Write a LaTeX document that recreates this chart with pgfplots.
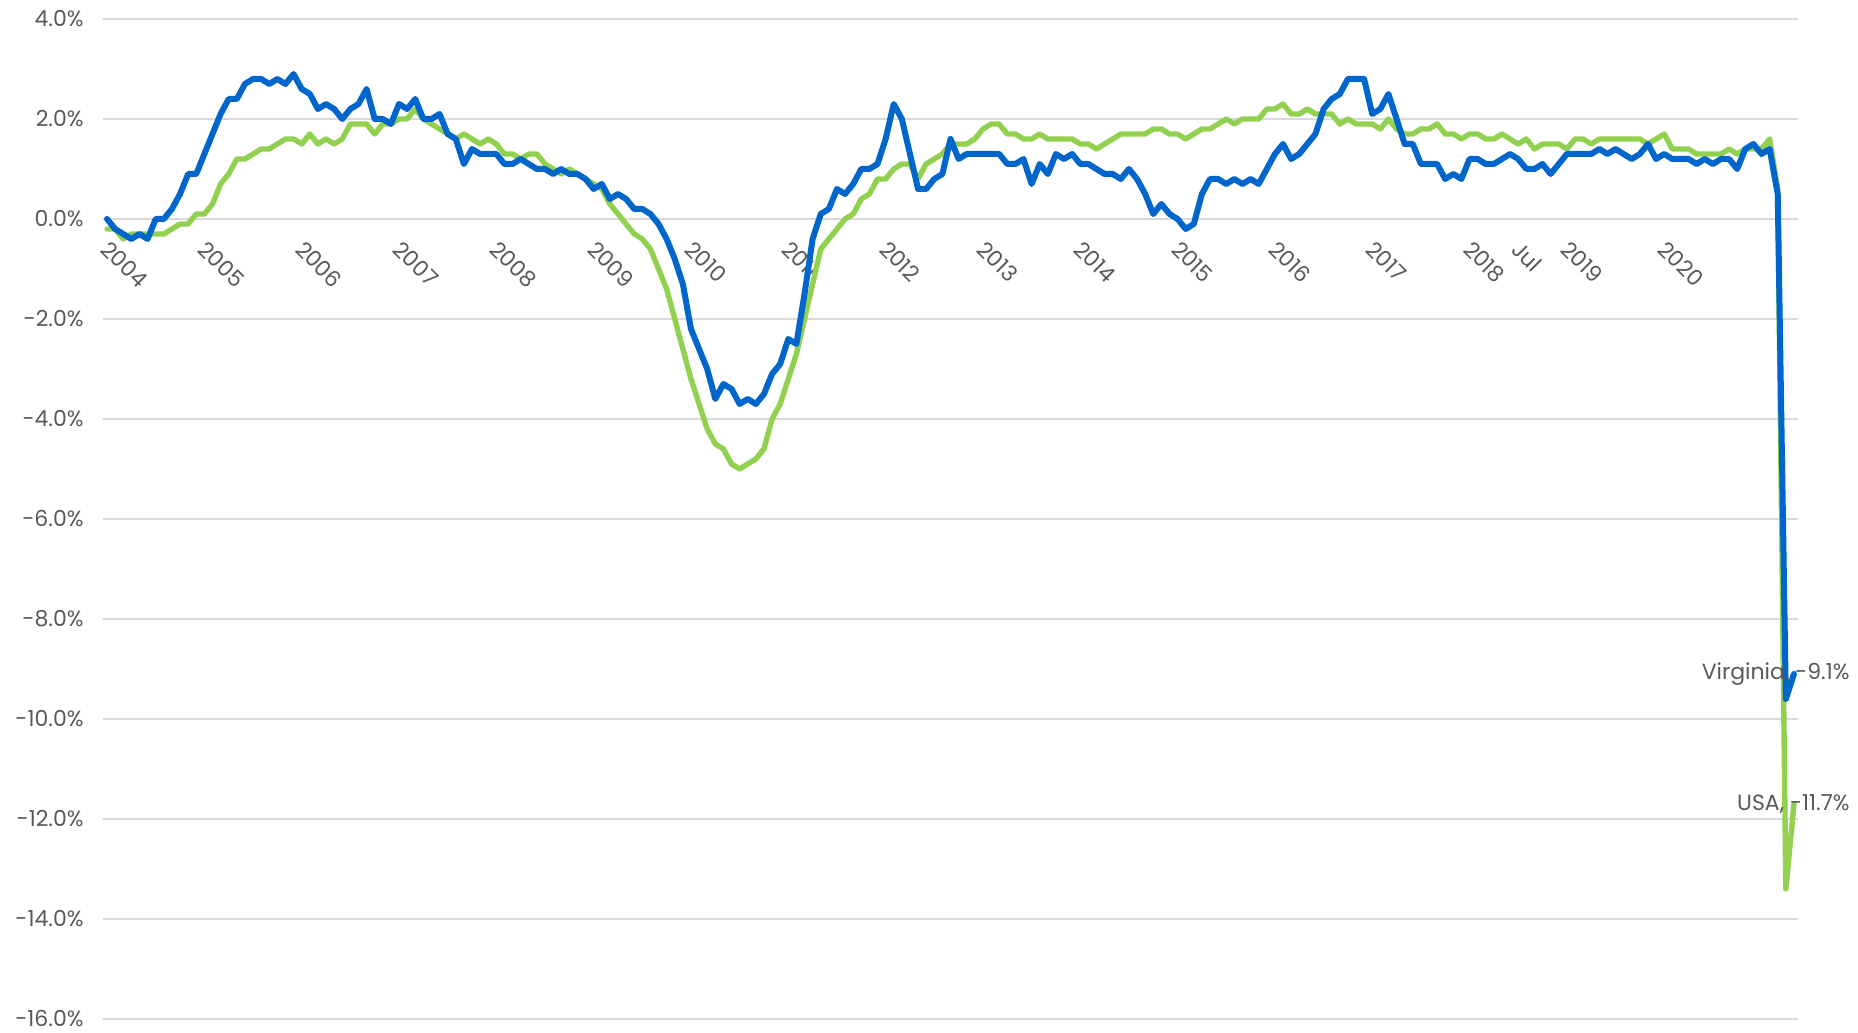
\documentclass[border=0pt]{standalone}
\usepackage{pgfplots}
\pgfplotsset{compat=1.18}
\usepackage{pgfplotstable}
\usepackage{fontspec}
\setmainfont{Poppins}

\definecolor{vablue}{HTML}{0066CC}
\definecolor{usgreen}{HTML}{92D050}
\definecolor{gridgray}{HTML}{D9D9D9}
\definecolor{labelgray}{HTML}{595959}

% month index, Virginia, USA (year-over-year change, %)
\pgfplotstableread{
x va us
0 0.0 -0.2
1 -0.2 -0.2
2 -0.3 -0.4
3 -0.4 -0.3
4 -0.3 -0.3
5 -0.4 -0.3
6 0.0 -0.3
7 0.0 -0.3
8 0.2 -0.2
9 0.5 -0.1
10 0.9 -0.1
11 0.9 0.1
12 1.3 0.1
13 1.7 0.3
14 2.1 0.7
15 2.4 0.9
16 2.4 1.2
17 2.7 1.2
18 2.8 1.3
19 2.8 1.4
20 2.7 1.4
21 2.8 1.5
22 2.7 1.6
23 2.9 1.6
24 2.6 1.5
25 2.5 1.7
26 2.2 1.5
27 2.3 1.6
28 2.2 1.5
29 2.0 1.6
30 2.2 1.9
31 2.3 1.9
32 2.6 1.9
33 2.0 1.7
34 2.0 1.9
35 1.9 1.9
36 2.3 2.0
37 2.2 2.0
38 2.4 2.2
39 2.0 2.0
40 2.0 1.9
41 2.1 1.8
42 1.7 1.7
43 1.6 1.6
44 1.1 1.7
45 1.4 1.6
46 1.3 1.5
47 1.3 1.6
48 1.3 1.5
49 1.1 1.3
50 1.1 1.3
51 1.2 1.2
52 1.1 1.3
53 1.0 1.3
54 1.0 1.1
55 0.9 1.0
56 1.0 0.9
57 0.9 1.0
58 0.9 0.9
59 0.8 0.8
60 0.6 0.7
61 0.7 0.6
62 0.4 0.3
63 0.5 0.1
64 0.4 -0.1
65 0.2 -0.3
66 0.2 -0.4
67 0.1 -0.6
68 -0.1 -1.0
69 -0.4 -1.4
70 -0.8 -2.0
71 -1.3 -2.6
72 -2.2 -3.2
73 -2.6 -3.7
74 -3.0 -4.2
75 -3.6 -4.5
76 -3.3 -4.6
77 -3.4 -4.9
78 -3.7 -5.0
79 -3.6 -4.9
80 -3.7 -4.8
81 -3.5 -4.6
82 -3.1 -4.0
83 -2.9 -3.7
84 -2.4 -3.2
85 -2.5 -2.7
86 -1.5 -2.0
87 -0.4 -1.3
88 0.1 -0.6
89 0.2 -0.4
90 0.6 -0.2
91 0.5 0.0
92 0.7 0.1
93 1.0 0.4
94 1.0 0.5
95 1.1 0.8
96 1.6 0.8
97 2.3 1.0
98 2.0 1.1
99 1.3 1.1
100 0.6 0.8
101 0.6 1.1
102 0.8 1.2
103 0.9 1.3
104 1.6 1.5
105 1.2 1.5
106 1.3 1.5
107 1.3 1.6
108 1.3 1.8
109 1.3 1.9
110 1.3 1.9
111 1.1 1.7
112 1.1 1.7
113 1.2 1.6
114 0.7 1.6
115 1.1 1.7
116 0.9 1.6
117 1.3 1.6
118 1.2 1.6
119 1.3 1.6
120 1.1 1.5
121 1.1 1.5
122 1.0 1.4
123 0.9 1.5
124 0.9 1.6
125 0.8 1.7
126 1.0 1.7
127 0.8 1.7
128 0.5 1.7
129 0.1 1.8
130 0.3 1.8
131 0.1 1.7
132 0.0 1.7
133 -0.2 1.6
134 -0.1 1.7
135 0.5 1.8
136 0.8 1.8
137 0.8 1.9
138 0.7 2.0
139 0.8 1.9
140 0.7 2.0
141 0.8 2.0
142 0.7 2.0
143 1.0 2.2
144 1.3 2.2
145 1.5 2.3
146 1.2 2.1
147 1.3 2.1
148 1.5 2.2
149 1.7 2.1
150 2.2 2.1
151 2.4 2.1
152 2.5 1.9
153 2.8 2.0
154 2.8 1.9
155 2.8 1.9
156 2.1 1.9
157 2.2 1.8
158 2.5 2.0
159 2.0 1.8
160 1.5 1.7
161 1.5 1.7
162 1.1 1.8
163 1.1 1.8
164 1.1 1.9
165 0.8 1.7
166 0.9 1.7
167 0.8 1.6
168 1.2 1.7
169 1.2 1.7
170 1.1 1.6
171 1.1 1.6
172 1.2 1.7
173 1.3 1.6
174 1.2 1.5
175 1.0 1.6
176 1.0 1.4
177 1.1 1.5
178 0.9 1.5
179 1.1 1.5
180 1.3 1.4
181 1.3 1.6
182 1.3 1.6
183 1.3 1.5
184 1.4 1.6
185 1.3 1.6
186 1.4 1.6
187 1.3 1.6
188 1.2 1.6
189 1.3 1.6
190 1.5 1.5
191 1.2 1.6
192 1.3 1.7
193 1.2 1.4
194 1.2 1.4
195 1.2 1.4
196 1.1 1.3
197 1.2 1.3
198 1.1 1.3
199 1.2 1.3
200 1.2 1.4
201 1.0 1.3
202 1.4 1.4
203 1.5 1.4
204 1.3 1.4
205 1.4 1.6
206 0.5 0.6
207 -9.6 -13.4
208 -9.1 -11.7
}\jobs

\begin{document}
\begin{tikzpicture}
\path[use as bounding box] (-51.5pt,-7pt) rectangle (877.5pt,509.5pt);
\begin{axis}[
    at={(0pt,0pt)}, anchor=south west,
    scale only axis, width=847.5pt, height=500pt,
    xmin=-0.5, xmax=208.5,
    ymin=-16, ymax=4,
    axis x line=middle, axis y line=left,
    axis line style={draw=none},
    hide obscured x ticks=false, hide obscured y ticks=false,
    major tick length=0pt,
    ytick={-16,-14,-12,-10,-8,-6,-4,-2,0,2,4},
    yticklabels={-16.0\%,-14.0\%,-12.0\%,-10.0\%,-8.0\%,-6.0\%,-4.0\%,-2.0\%,0.0\%,2.0\%,4.0\%},
    xtick={0,12,24,36,48,60,72,84,96,108,120,132,144,156,168,174,180,192},
    xticklabels={2004,2005,2006,2007,2008,2009,2010,2011,2012,2013,2014,2015,2016,2017,2018,Jul,2019,2020},
    ymajorgrids=true,
    grid style={color=gridgray, line width=0.75pt},
    tick label style={color=labelgray, font=\fontsize{11}{13}\selectfont},
    yticklabel style={anchor=east, inner sep=0pt, xshift=-9.5pt},
    xticklabel style={xshift=2pt, yshift=-10pt, rotate=-45, anchor=north west, inner sep=0pt},
    clip=false,
]
\addplot[color=usgreen, line width=2.7pt, line join=round, line cap=round] table[x=x, y=us] {\jobs};
\addplot[color=vablue, line width=3pt, line join=round, line cap=round] table[x=x, y=va] {\jobs};
\node[anchor=east, inner sep=0pt, xshift=28pt, color=labelgray, font=\fontsize{11}{13}\selectfont] at (axis cs:208,-9.1) {Virginia, -9.1\%};
\node[anchor=east, inner sep=0pt, xshift=28pt, color=labelgray, font=\fontsize{11}{13}\selectfont] at (axis cs:208,-11.7) {USA, -11.7\%};
\end{axis}
\end{tikzpicture}
\end{document}
